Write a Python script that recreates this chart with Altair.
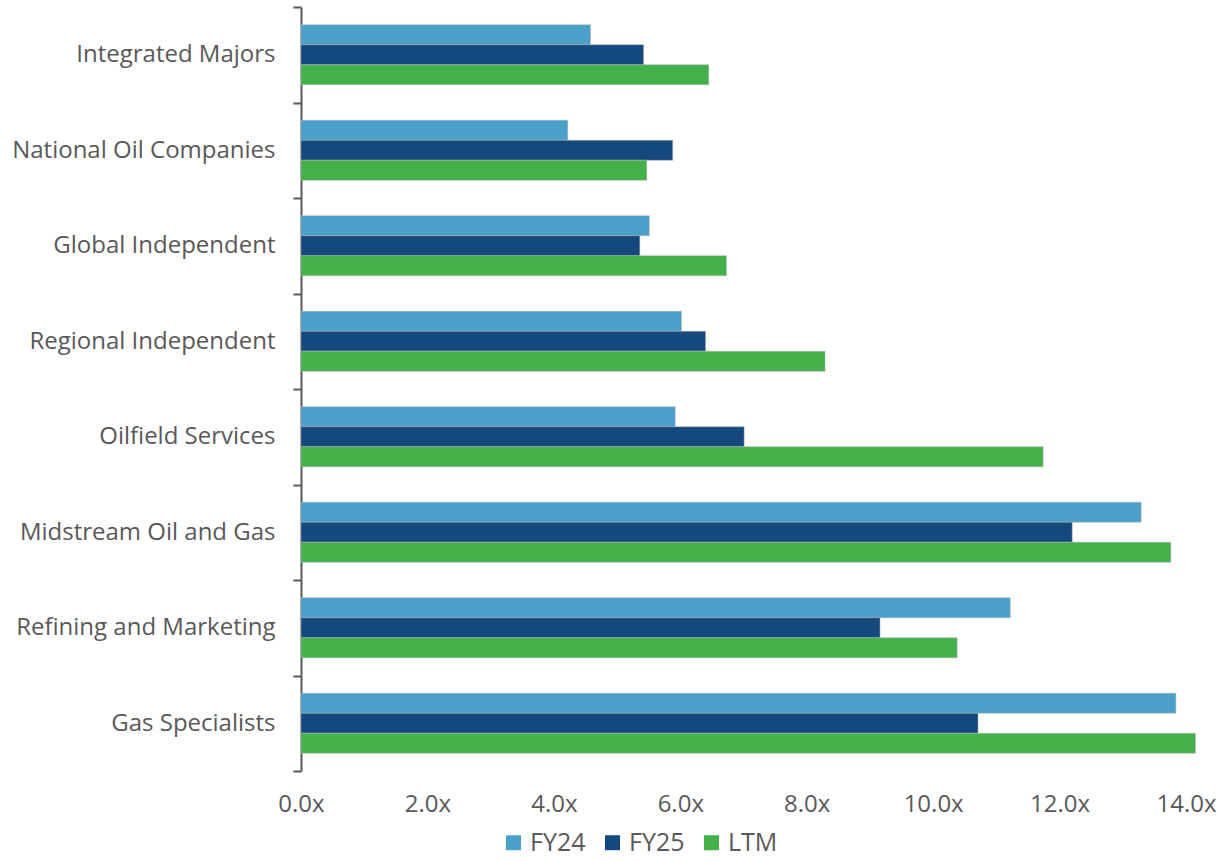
import altair as alt
import pandas as pd

categories = ["Integrated Majors", "National Oil Companies", "Global Independent",
              "Regional Independent", "Oilfield Services", "Midstream Oil and Gas",
              "Refining and Marketing", "Gas Specialists"]
series = ["FY24", "FY25", "LTM"]
fy24 = [4.58, 4.22, 5.51, 6.02, 5.92, 13.29, 11.22, 13.84]
fy25 = [5.42, 5.88, 5.36, 6.40, 7.01, 12.20, 9.16, 10.71]
ltm = [6.45, 5.47, 6.73, 8.29, 11.74, 13.76, 10.38, 14.15]
colors = ["#4BA0CA", "#15497E", "#43B04B"]
tick_values = [0, 2, 4, 6, 8, 10, 12, 14]

rows = []
for s, vals in zip(series, [fy24, fy25, ltm]):
    for c, v in zip(categories, vals):
        rows.append({"category": c, "series": s, "value": v})
df = pd.DataFrame(rows)

font = "Open Sans"

chart = alt.Chart(df).mark_bar(stroke="#b0b0b0", strokeWidth=0.5).encode(
    y=alt.Y("category:N", sort=categories, title=None,
            scale=alt.Scale(paddingInner=0, paddingOuter=0),
            axis=alt.Axis(domainColor="#595959", domainWidth=2, tickColor="#595959",
                          tickWidth=2, tickSize=8, tickBand="extent", labelPadding=18,
                          labelFont=font, labelFontSize=24, labelColor="#595959",
                          labelLimit=400)),
    yOffset=alt.YOffset("series:N", sort=series,
                        scale=alt.Scale(paddingInner=0, paddingOuter=0.885)),
    x=alt.X("value:Q", title=None, scale=alt.Scale(domain=[0, 14], nice=False),
            axis=alt.Axis(values=tick_values, domain=False, ticks=False, grid=False,
                          labelFlush=False,
                          labelExpr="format(datum.value, '.1f') + 'x'",
                          labelFont=font, labelFontSize=24, labelColor="#595959",
                          labelPadding=21)),
    color=alt.Color("series:N", sort=series,
                    scale=alt.Scale(domain=series, range=colors),
                    legend=alt.Legend(title=None, orient="none", direction="horizontal",
                                      legendX=200, legendY=823, symbolType="square",
                                      symbolSize=225, symbolStrokeWidth=0,
                                      labelFont=font, labelFontSize=25,
                                      labelColor="#595959", columnPadding=14,
                                      labelOffset=4)),
).properties(
    width=885, height=764,
    background="white",
    autosize=alt.AutoSizeParams(type="none"),
    padding={"left": 301, "top": 7, "right": 32, "bottom": 90},
).configure_view(strokeWidth=0)

chart.save("out.html", embed_options={"renderer": "svg", "actions": False})
